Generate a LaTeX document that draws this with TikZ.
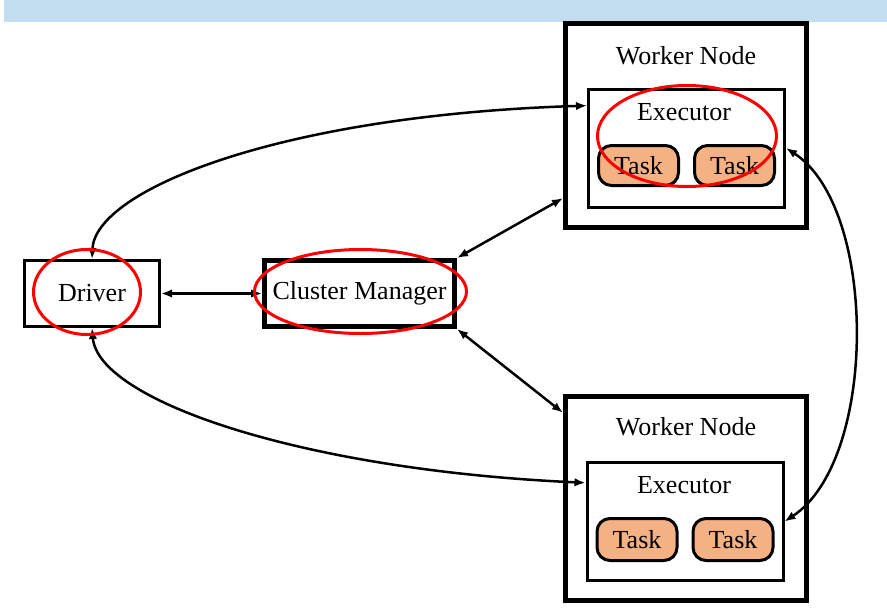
\documentclass[tikz,border=0pt]{standalone}
\usepackage{fontspec}
\setmainfont{Liberation Serif}
\usetikzlibrary{arrows.meta,calc,positioning}
\usepackage{xcolor}
\definecolor{barblue}{HTML}{C2DDEF}
\definecolor{taskorange}{HTML}{F4B183}
\tikzset{
    txtsty/.style={font=\fontsize{26pt}{30pt}\selectfont, inner sep=0pt},
    workersty/.style={draw, line width=5pt, rectangle, minimum width=241pt, minimum height=204pt, inner sep=0pt},
    execsty/.style={draw, line width=3pt, rectangle, minimum width=196pt, minimum height=118pt, inner sep=0pt},
    tasksty/.style={txtsty, draw, line width=3pt, fill=taskorange, rounded corners=13pt, minimum width=80pt, minimum height=40pt},
    drvsty/.style={txtsty, draw, line width=3pt, rectangle, minimum width=135pt, minimum height=66pt},
    cmsty/.style={txtsty, draw, line width=5pt, rectangle, minimum width=190pt, minimum height=66pt},
    linksty/.style={<->, line width=2.5pt},
    ringsty/.style={draw=red, line width=3pt},
}

\begin{document}
\begin{tikzpicture}[x=1pt, y=-1pt, >={Latex[length=11pt,width=8.5pt]}]
\useasboundingbox (0,0) rectangle (887,611);
\fill [barblue] (4,0) rectangle (887,22);

\node (W1) [workersty] at (686,125) {};
\node (W1l) [txtsty, anchor=base] at (686,64) {Worker Node};
\node (W1ex) [execsty] at (686.5,148) {};
\node (W1exl) [txtsty, anchor=base] at (684,120) {Executor};
\node (W1t1) [tasksty] at (638.5,165.5) {Task};
\node (W1t2) [tasksty] at (734.5,165.5) {Task};

\node (W2) [workersty] at (686,498.5) {};
\node (W2l) [txtsty, anchor=base] at (686,435) {Worker Node};
\node (W2ex) [execsty] at (685,521.5) {};
\node (W2exl) [txtsty, anchor=base] at (684,493) {Executor};
\node (W2t1) [tasksty, minimum height=42pt] at (637,539.5) {Task};
\node (W2t2) [tasksty, minimum height=42pt] at (733,539.5) {Task};

\node (Drv) [drvsty] at (92,293.5) {Driver};
\node (CM) [cmsty] at (359.5,293.5) {Cluster Manager};

\draw [linksty] (Drv.east) -- (CM.west);
\draw [linksty] (CM.north east) -- ($(W1.north west)!0.85!(W1.south west)$);
\draw [linksty] (CM.south east) -- ($(W2.north west)!0.09!(W2.south west)$);
\draw [linksty] (Drv.north) .. controls (95,190) and (280,115) .. ($(W1ex.north west)!0.15!(W1ex.south west)$);
\draw [linksty] (Drv.south) .. controls (98,400) and (300,470) .. ($(W2ex.north west)!0.18!(W2ex.south west)$);
\draw [linksty] (W1ex.east) .. controls (878,208) and (878,460) .. (W2ex.east);

\draw [ringsty] (687,136) ellipse [x radius=89.5pt, y radius=50.5pt];
\draw [ringsty] (87,292) ellipse [x radius=53.5pt, y radius=42.5pt];
\draw [ringsty] (360.5,291.5) ellipse [x radius=106pt, y radius=42pt];

\end{tikzpicture}
\end{document}
